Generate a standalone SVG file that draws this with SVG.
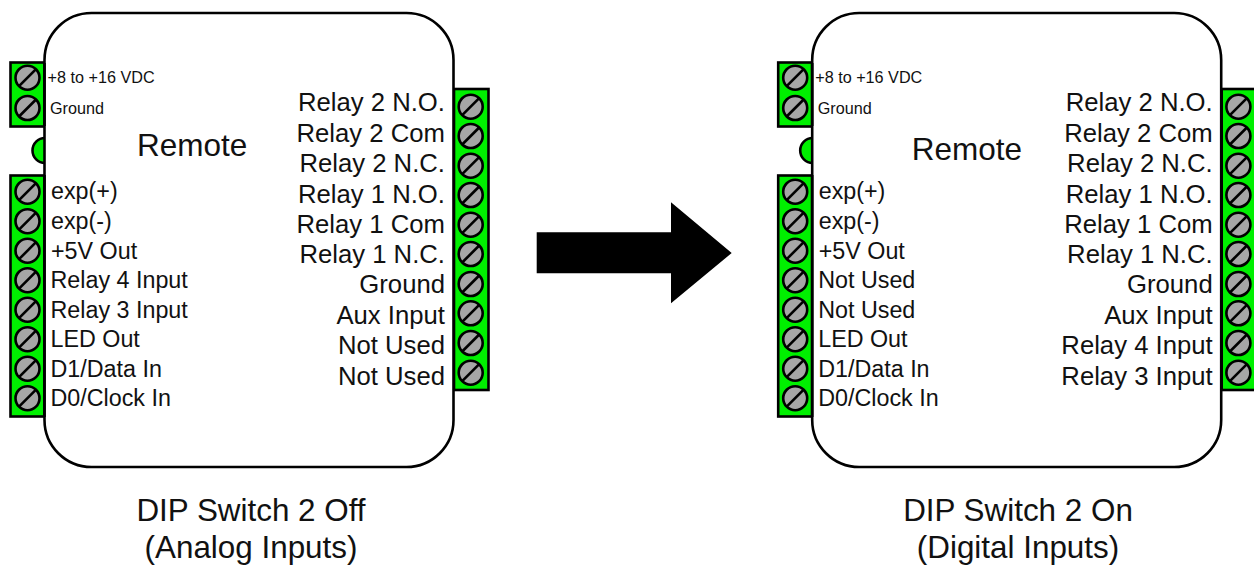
<svg xmlns="http://www.w3.org/2000/svg" xmlns:xlink="http://www.w3.org/1999/xlink" width="1254" height="565" viewBox="0 0 1254 565">
<style>
text{font-family:"Liberation Sans",Arial,sans-serif;fill:#111}
.l{font-size:23.300px}
.r{font-size:25.700px;text-anchor:end}
.s{font-size:16.200px}
.t{font-size:31.500px}
.c{font-size:31.400px;text-anchor:middle}
.body{fill:#fff;stroke:#000;stroke-width:2.600}
.block{fill:#00f000;stroke:#000;stroke-width:2.600}
.screw{fill:#a6a6a6;stroke:#000;stroke-width:2.600}
</style>
<defs>
<g id="sc"><circle class="screw" r="12"/><line x1="-8.500" y1="8.500" x2="8.500" y2="-8.500" stroke="#000" stroke-width="2.600"/></g>
</defs>
<rect width="1254" height="565" fill="#fff"/>
<g id="device-left">
<ellipse class="block" cx="45" cy="150.500" rx="12.500" ry="12.500"/>
<rect class="block" x="10.500" y="62.500" width="34" height="64"/>
<rect class="block" x="10.500" y="175.500" width="34" height="241"/>
<rect class="block" x="454" y="89" width="34.500" height="301"/>
<rect class="body" x="44.500" y="13" width="409" height="454" rx="47" ry="47"/>
<rect x="43.200" y="63" width="2.600" height="63" fill="#000"/>
<rect x="43.200" y="175" width="2.600" height="242" fill="#000"/>
<use xlink:href="#sc" x="27.500" y="77.700"/><use xlink:href="#sc" x="27.500" y="108"/>
<use xlink:href="#sc" x="27.500" y="191.700"/><use xlink:href="#sc" x="27.500" y="221.200"/><use xlink:href="#sc" x="27.500" y="250.700"/><use xlink:href="#sc" x="27.500" y="280.200"/><use xlink:href="#sc" x="27.500" y="309.700"/><use xlink:href="#sc" x="27.500" y="339.200"/><use xlink:href="#sc" x="27.500" y="368.700"/><use xlink:href="#sc" x="27.500" y="398.200"/>
<use xlink:href="#sc" x="470.700" y="106.700"/><use xlink:href="#sc" x="470.700" y="136"/><use xlink:href="#sc" x="470.700" y="165.700"/><use xlink:href="#sc" x="470.700" y="195"/><use xlink:href="#sc" x="470.700" y="224.700"/><use xlink:href="#sc" x="470.700" y="254"/><use xlink:href="#sc" x="470.700" y="284"/><use xlink:href="#sc" x="470.700" y="313.300"/><use xlink:href="#sc" x="470.700" y="343"/><use xlink:href="#sc" x="470.700" y="372.700"/>
<text class="s" x="47.500" y="83">+8 to +16 VDC</text>
<text class="s" x="50" y="114">Ground</text>
<text class="t" x="137" y="155.500">Remote</text>
<text class="l" x="51" y="199">exp(+)</text>
<text class="l" x="51" y="229">exp(-)</text>
<text class="l" x="51" y="259">+5V Out</text>
<text class="l" x="50.500" y="288">Relay 4 Input</text>
<text class="l" x="50.500" y="317.500">Relay 3 Input</text>
<text class="l" x="50.500" y="347">LED Out</text>
<text class="l" x="50.500" y="376.500">D1/Data In</text>
<text class="l" x="50.500" y="406">D0/Clock In</text>
<text class="r" x="445" y="110.700">Relay 2 N.O.</text>
<text class="r" x="445" y="141.500">Relay 2 Com</text>
<text class="r" x="445" y="171.500">Relay 2 N.C.</text>
<text class="r" x="445" y="202.500">Relay 1 N.O.</text>
<text class="r" x="445" y="232.500">Relay 1 Com</text>
<text class="r" x="445" y="263">Relay 1 N.C.</text>
<text class="r" x="445" y="293">Ground</text>
<text class="r" x="445" y="324">Aux Input</text>
<text class="r" x="445" y="354">Not Used</text>
<text class="r" x="445" y="385">Not Used</text>
<text class="c" x="251" y="521">DIP Switch 2 Off</text>
<text class="c" x="251" y="558">(Analog Inputs)</text>
</g>
<g id="arrow"><polygon points="536.700,232.300 671,232.300 671,202.300 731.700,253 671,303.300 671,273.300 536.700,273.300" fill="#000"/></g>
<g id="device-right" transform="translate(767.700 0)">
<ellipse class="block" cx="45" cy="150.500" rx="12.500" ry="12.500"/>
<rect class="block" x="10.500" y="62.500" width="34" height="64"/>
<rect class="block" x="10.500" y="175.500" width="34" height="241"/>
<rect class="block" x="454" y="89" width="34.500" height="301"/>
<rect class="body" x="44.500" y="13" width="409" height="454" rx="47" ry="47"/>
<rect x="43.200" y="63" width="2.600" height="63" fill="#000"/>
<rect x="43.200" y="175" width="2.600" height="242" fill="#000"/>
<use xlink:href="#sc" x="27.500" y="77.700"/><use xlink:href="#sc" x="27.500" y="108"/>
<use xlink:href="#sc" x="27.500" y="191.700"/><use xlink:href="#sc" x="27.500" y="221.200"/><use xlink:href="#sc" x="27.500" y="250.700"/><use xlink:href="#sc" x="27.500" y="280.200"/><use xlink:href="#sc" x="27.500" y="309.700"/><use xlink:href="#sc" x="27.500" y="339.200"/><use xlink:href="#sc" x="27.500" y="368.700"/><use xlink:href="#sc" x="27.500" y="398.200"/>
<use xlink:href="#sc" x="470.700" y="106.700"/><use xlink:href="#sc" x="470.700" y="136"/><use xlink:href="#sc" x="470.700" y="165.700"/><use xlink:href="#sc" x="470.700" y="195"/><use xlink:href="#sc" x="470.700" y="224.700"/><use xlink:href="#sc" x="470.700" y="254"/><use xlink:href="#sc" x="470.700" y="284"/><use xlink:href="#sc" x="470.700" y="313.300"/><use xlink:href="#sc" x="470.700" y="343"/><use xlink:href="#sc" x="470.700" y="372.700"/>
<text class="s" x="47.500" y="83">+8 to +16 VDC</text>
<text class="s" x="50" y="114">Ground</text>
<text class="t" x="144" y="160">Remote</text>
<text class="l" x="51" y="199">exp(+)</text>
<text class="l" x="51" y="229">exp(-)</text>
<text class="l" x="51" y="259">+5V Out</text>
<text class="l" x="50.500" y="288">Not Used</text>
<text class="l" x="50.500" y="317.500">Not Used</text>
<text class="l" x="50.500" y="347">LED Out</text>
<text class="l" x="50.500" y="376.500">D1/Data In</text>
<text class="l" x="50.500" y="406">D0/Clock In</text>
<text class="r" x="445" y="110.700">Relay 2 N.O.</text>
<text class="r" x="445" y="141.500">Relay 2 Com</text>
<text class="r" x="445" y="171.500">Relay 2 N.C.</text>
<text class="r" x="445" y="202.500">Relay 1 N.O.</text>
<text class="r" x="445" y="232.500">Relay 1 Com</text>
<text class="r" x="445" y="263">Relay 1 N.C.</text>
<text class="r" x="445" y="293">Ground</text>
<text class="r" x="445" y="324">Aux Input</text>
<text class="r" x="445" y="354">Relay 4 Input</text>
<text class="r" x="445" y="385">Relay 3 Input</text>
<text class="c" x="250.300" y="521">DIP Switch 2 On</text>
<text class="c" x="250.300" y="558">(Digital Inputs)</text>
</g>
</svg>
